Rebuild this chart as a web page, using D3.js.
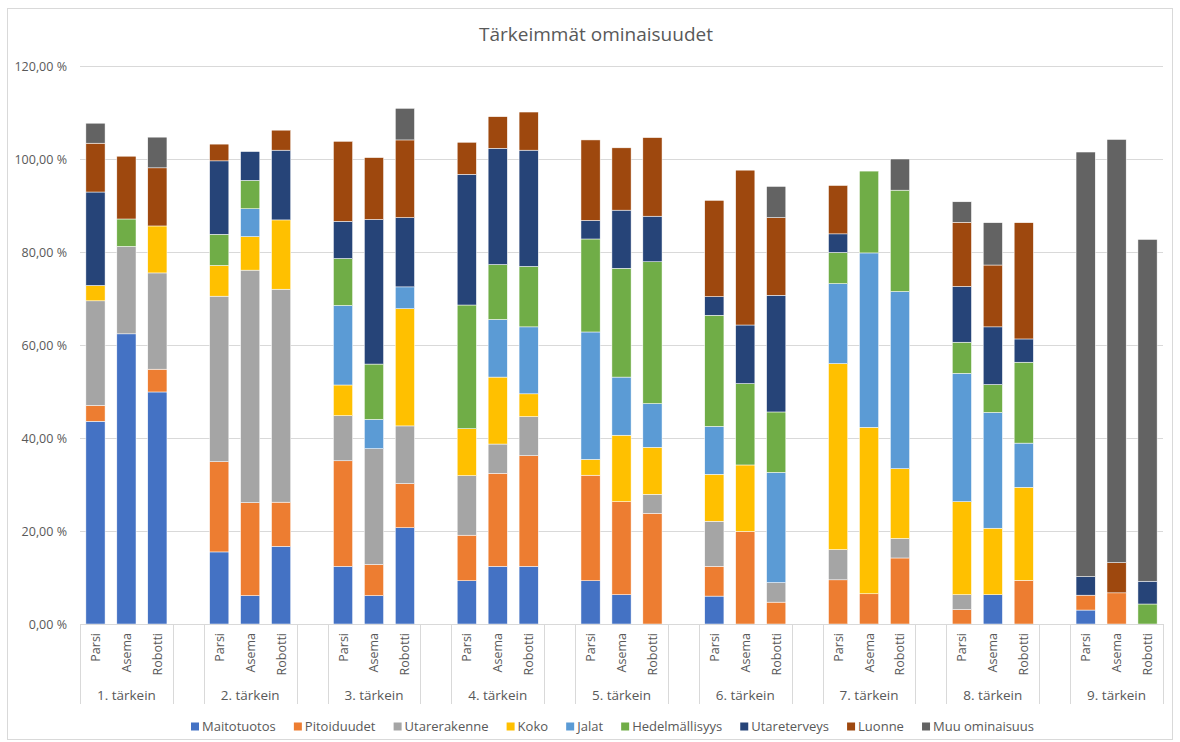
<!DOCTYPE html>
<html>
<head>
<meta charset="utf-8">
<script src="https://cdn.jsdelivr.net/npm/d3@7"></script>
<style>
  html, body { margin: 0; padding: 0; background: #fff; }
  svg { display: block; font-family: "Open Sans", "Noto Sans", sans-serif; }
</style>
</head>
<body>
<svg id="chart" width="1180" height="742"></svg>
<script>
// Ranking groups and the three milking systems within each group
const groups = ["1. tärkein", "2. tärkein", "3. tärkein", "4. tärkein", "5. tärkein",
                "6. tärkein", "7. tärkein", "8. tärkein", "9. tärkein"];
const systems = ["Parsi", "Asema", "Robotti"];
const seriesNames = ["Maitotuotos", "Pitoiduudet", "Utarerakenne", "Koko", "Jalat",
                     "Hedelmällisyys", "Utareterveys", "Luonne", "Muu ominaisuus"];

// Shares (%) per group, in order Parsi, Asema, Robotti for each group
const maitotuotos    = [43.6, 62.4, 49.9, 15.5, 6.1, 16.7, 12.4, 6.1, 20.7, 9.3, 12.4, 12.4, 9.3, 6.3, 0, 6.0, 0, 0, 0, 0, 0, 0, 6.3, 0, 3.0, 0, 0];
const pitoiduudet    = [3.4, 0, 4.9, 19.4, 20.0, 9.5, 22.7, 6.7, 9.5, 9.8, 20.0, 23.8, 22.7, 20.0, 23.8, 6.4, 19.9, 4.7, 9.5, 6.5, 14.2, 3.1, 0, 9.4, 3.2, 6.7, 0];
const utarerakenne   = [22.5, 18.8, 20.7, 35.6, 50.0, 45.8, 9.7, 24.9, 12.4, 12.8, 6.3, 8.4, 0, 0, 4.1, 9.7, 0, 4.2, 6.5, 0, 4.2, 3.2, 0, 0, 0, 0, 0];
const koko           = [3.3, 0, 10.1, 6.6, 7.2, 14.9, 6.6, 0, 25.2, 10.1, 14.4, 4.9, 3.4, 14.3, 10.1, 10.1, 14.3, 0, 40.0, 35.8, 15.0, 20.0, 14.3, 20.0, 0, 0, 0];
const jalat          = [0, 0, 0, 0, 6.0, 0, 17.1, 6.3, 4.7, 0, 12.4, 14.4, 27.4, 12.5, 9.4, 10.3, 0, 23.7, 17.2, 37.5, 38.1, 27.6, 24.9, 9.5, 0, 0, 0];
const hedelmallisyys = [0, 5.9, 0, 6.7, 6.1, 0, 10.1, 11.9, 0, 26.6, 11.8, 13.0, 20.0, 23.4, 30.5, 23.9, 17.5, 13.0, 6.7, 17.6, 21.8, 6.7, 6.0, 17.4, 0, 0, 4.3];
const utareterveys   = [20.1, 0, 0, 15.8, 6.2, 15.0, 8.0, 31.1, 14.9, 28.1, 25.0, 25.0, 4.0, 12.5, 9.8, 4.0, 12.6, 25.1, 4.0, 0, 0, 12.0, 12.4, 5.0, 4.0, 0, 4.9];
const luonne         = [10.5, 13.5, 12.5, 3.6, 0, 4.3, 17.2, 13.3, 16.7, 6.9, 6.8, 8.2, 17.3, 13.4, 16.9, 20.7, 33.3, 16.7, 10.4, 0, 0, 13.8, 13.3, 25.0, 0, 6.5, 0];
const muu            = [4.3, 0, 6.6, 0, 0, 0, 0, 0, 6.8, 0, 0, 0, 0, 0, 0, 0, 0, 6.7, 0, 0, 6.7, 4.4, 9.1, 0, 91.3, 91.0, 73.5];

const yTicks = [0, 20, 40, 60, 80, 100, 120];

const seriesValues = [maitotuotos, pitoiduudet, utarerakenne, koko, jalat,
                      hedelmallisyys, utareterveys, luonne, muu];
const colors = ["#4472C4", "#ED7D31", "#A5A5A5", "#FFC000", "#5B9BD5",
                "#70AD47", "#264478", "#9E480E", "#636363"];

// Build one row per bar; each group occupies 3 slots followed by an empty spacer slot
const rows = [];
groups.forEach((g, gi) => {
  systems.forEach((s, si) => {
    const idx = gi * 3 + si;
    const row = { group: g, system: s, slot: gi * 4 + si };
    seriesNames.forEach((name, k) => { row[name] = seriesValues[k][idx]; });
    rows.push(row);
  });
});
const slotCount = groups.length * 4 - 1;

const svg = d3.select("#chart");
const plot = { left: 80, right: 1163, top: 66, bottom: 624 };
const textColor = "#595959";
const gridColor = "#d9d9d9";

// Outer chart frame
svg.append("rect")
  .attr("x", 7.5).attr("y", 8.5)
  .attr("width", 1165).attr("height", 731)
  .attr("fill", "#fff").attr("stroke", "#d9d9d9").attr("stroke-width", 1);

// Title
svg.append("text")
  .attr("x", 596).attr("y", 41)
  .attr("text-anchor", "middle")
  .attr("font-size", 19)
  .attr("fill", textColor)
  .text("Tärkeimmät ominaisuudet");

const x = d3.scaleBand()
  .domain(d3.range(slotCount))
  .range([plot.left, plot.right])
  .padding(0);
const bw = x.bandwidth();
const barW = bw * 0.62;

const y = d3.scaleLinear().domain([0, 120]).range([plot.bottom, plot.top]);

// Gridlines and value axis labels
const yAxis = d3.axisLeft(y)
  .tickValues(yTicks)
  .tickSize(-(plot.right - plot.left))
  .tickPadding(13)
  .tickFormat(d => d3.format(".2f")(d).replace(".", ",") + " %");
const yG = svg.append("g")
  .attr("transform", `translate(${plot.left},0)`)
  .call(yAxis);
yG.select(".domain").remove();
yG.selectAll(".tick line").attr("stroke", gridColor).attr("stroke-width", 1);
yG.selectAll(".tick text")
  .attr("fill", textColor)
  .attr("font-size", 12.5)
  .attr("font-family", "\"Open Sans\", sans-serif");

// Stacked bars
const stack = d3.stack().keys(seriesNames);
const layers = stack(rows);
svg.append("g")
  .selectAll("g")
  .data(layers)
  .join("g")
  .attr("fill", (d, i) => colors[i])
  .selectAll("rect")
  .data(d => d.filter(p => p[1] - p[0] > 0))
  .join("rect")
  .attr("x", d => x(d.data.slot) + (bw - barW) / 2)
  .attr("y", d => y(d[1]))
  .attr("width", barW)
  .attr("height", d => y(d[0]) - y(d[1]))
  .attr("stroke", "#ffffff")
  .attr("stroke-width", 0.5);

// Category axis line
svg.append("line")
  .attr("x1", plot.left).attr("x2", plot.right)
  .attr("y1", plot.bottom + 0.5).attr("y2", plot.bottom + 0.5)
  .attr("stroke", gridColor).attr("stroke-width", 1);

// Group boundary lines below the axis
const sepBottom = 704;
const sepXs = [];
groups.forEach((g, gi) => {
  sepXs.push(x(gi * 4));
  sepXs.push(x(gi * 4) + 3 * bw);
});
svg.append("g")
  .selectAll("line")
  .data(sepXs)
  .join("line")
  .attr("x1", d => Math.round(d) + 0.5).attr("x2", d => Math.round(d) + 0.5)
  .attr("y1", plot.bottom).attr("y2", sepBottom)
  .attr("stroke", gridColor).attr("stroke-width", 1);

// Inner category labels (rotated)
svg.append("g")
  .selectAll("text")
  .data(rows)
  .join("text")
  .attr("transform", d => `translate(${x(d.slot) + bw / 2 + 4.5},${plot.bottom + 9}) rotate(-90)`)
  .attr("text-anchor", "end")
  .attr("font-size", 12.5)
  .attr("fill", textColor)
  .text(d => d.system);

// Group labels
svg.append("g")
  .selectAll("text")
  .data(groups)
  .join("text")
  .attr("x", (d, gi) => x(gi * 4) + 1.5 * bw)
  .attr("y", 700)
  .attr("text-anchor", "middle")
  .attr("font-size", 13.5)
  .attr("fill", textColor)
  .text(d => d);

// Legend, spread across the same width as the series key in the layout
const legend = svg.append("g");
const items = legend.selectAll("g")
  .data(seriesNames)
  .join("g");
items.append("rect")
  .attr("width", 8).attr("height", 8)
  .attr("y", -8.5)
  .attr("fill", (d, i) => colors[i]);
items.append("text")
  .attr("x", 11)
  .attr("font-size", 13)
  .attr("fill", textColor)
  .text(d => d);
const widths = items.nodes().map(n =>
  11 + d3.select(n).select("text").node().getComputedTextLength());
const legendLeft = 191, legendRight = 1034;
const gap = (legendRight - legendLeft - d3.sum(widths)) / (widths.length - 1);
items.attr("transform", (d, i) => {
  const tx = legendLeft + d3.sum(widths.slice(0, i)) + gap * i;
  return `translate(${tx},731)`;
});
</script>
</body>
</html>
